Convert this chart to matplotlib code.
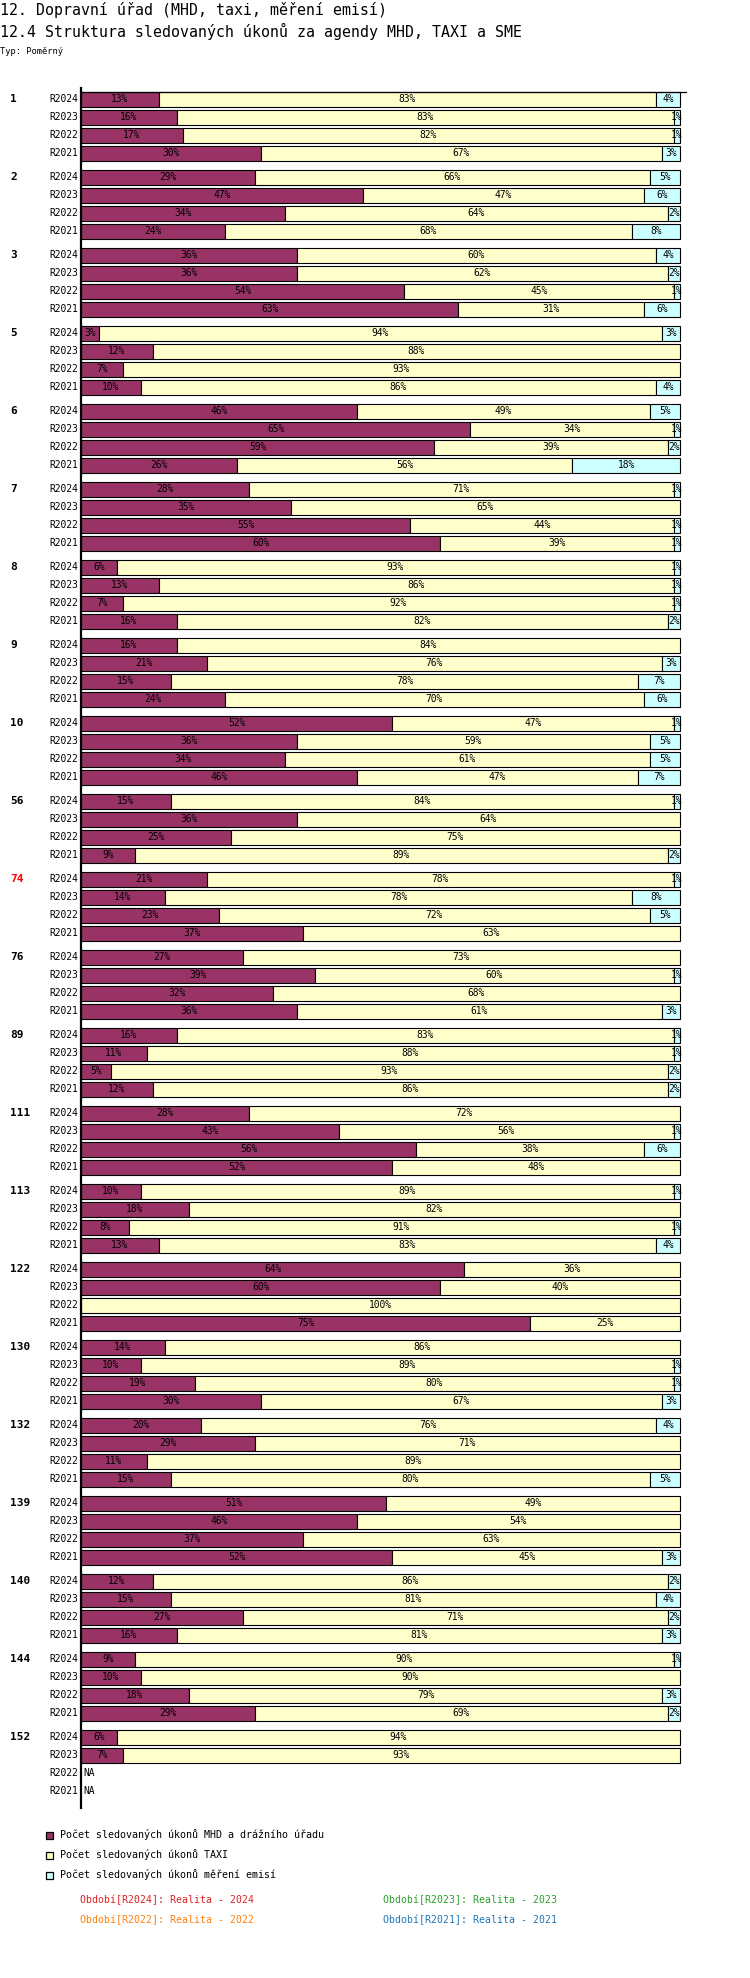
import matplotlib
matplotlib.use("Agg")
import matplotlib.pyplot as plt
from matplotlib.patches import Rectangle
import numpy as np

plt.rcParams['font.family'] = ['DejaVu Sans Mono', 'DejaVu Sans']

# ---------------- data ----------------
groups = ["1", "2", "3", "5", "6", "7", "8", "9", "10", "56", "74", "76", "89",
          "111", "113", "122", "130", "132", "139", "140", "144", "152"]
periods = ["R2024", "R2023", "R2022", "R2021"]

# each group: rows for R2024, R2023, R2022, R2021 ; None = NA
mhd = [
    [13, 16, 17, 30], [29, 47, 34, 24], [36, 36, 54, 63], [3, 12, 7, 10],
    [46, 65, 59, 26], [28, 35, 55, 60], [6, 13, 7, 16], [16, 21, 15, 24],
    [52, 36, 34, 46], [15, 36, 25, 9], [21, 14, 23, 37], [27, 39, 32, 36],
    [16, 11, 5, 12], [28, 43, 56, 52], [10, 18, 8, 13], [64, 60, 0, 75],
    [14, 10, 19, 30], [20, 29, 11, 15], [51, 46, 37, 52], [12, 15, 27, 16],
    [9, 10, 18, 29], [6, 7, None, None],
]
taxi = [
    [83, 83, 82, 67], [66, 47, 64, 68], [60, 62, 45, 31], [94, 88, 93, 86],
    [49, 34, 39, 56], [71, 65, 44, 39], [93, 86, 92, 82], [84, 76, 78, 70],
    [47, 59, 61, 47], [84, 64, 75, 89], [78, 78, 72, 63], [73, 60, 68, 61],
    [83, 88, 93, 86], [72, 56, 38, 48], [89, 82, 91, 83], [36, 40, 100, 25],
    [86, 89, 80, 67], [76, 71, 89, 80], [49, 54, 63, 45], [86, 81, 71, 81],
    [90, 90, 79, 69], [94, 93, None, None],
]
sme = [
    [4, 1, 1, 3], [5, 6, 2, 8], [4, 2, 1, 6], [3, 0, 0, 4],
    [5, 1, 2, 18], [1, 0, 1, 1], [1, 1, 1, 2], [0, 3, 7, 6],
    [1, 5, 5, 7], [1, 0, 0, 2], [1, 8, 5, 0], [0, 1, 0, 3],
    [1, 1, 2, 2], [0, 1, 6, 0], [1, 0, 1, 4], [0, 0, 0, 0],
    [0, 1, 1, 3], [4, 0, 0, 5], [0, 0, 0, 3], [2, 4, 2, 3],
    [1, 0, 3, 2], [0, 0, None, None],
]
series_names = ["Počet sledovaných úkonů MHD a drážního úřadu",
                "Počet sledovaných úkonů TAXI",
                "Počet sledovaných úkonů měření emisí"]
series_colors = ["#993366", "#FFFFCC", "#CCFFFF"]
highlight_group = "74"
period_legend = ["Období[R2024]: Realita - 2024", "Období[R2023]: Realita - 2023",
                 "Období[R2022]: Realita - 2022", "Období[R2021]: Realita - 2021"]
period_colors = ["#dd2222", "#2ca02c", "#ff7f0e", "#1f77b4"]

title1 = "12. Dopravní úřad (MHD, taxi, měření emisí)"
title2 = "12.4 Struktura sledovaných úkonů za agendy MHD, TAXI a SME"
subtitle = "Typ: Poměrný"

# ---------------- layout ----------------
W, H, DPI = 750, 1978, 100
fig = plt.figure(figsize=(W / DPI, H / DPI), dpi=DPI)

ROW = 18.0            # px per row
GAP = 6.0 / ROW       # extra gap between groups (rows)
ax_left, ax_right = 81, 680
ax_top, ax_bot = 88, 1808
first_center = 99.5

ax = fig.add_axes([ax_left / W, 1 - ax_bot / H, (ax_right - ax_left) / W, (ax_bot - ax_top) / H])
ytop = -(first_center - ax_top) / ROW
ybot = ytop + (ax_bot - ax_top) / ROW
ax.set_xlim(0, 100)
ax.set_ylim(ybot, ytop)
for s in ["top", "right", "bottom"]:
    ax.spines[s].set_visible(False)
ax.spines["left"].set_linewidth(1.6)
ax.spines["left"].set_zorder(5)
ax.set_xticks([])
ax.set_yticks([])

bh = 15.0 / ROW
px2data = 100.0 / (ax_right - ax_left)

for g, gname in enumerate(groups):
    for r, per in enumerate(periods):
        y = g * (4 + GAP) + r
        ax.text(-3 * px2data, y, per, ha="right", va="center", fontsize=6.9, clip_on=False)
        if r == 0:
            ax.text((10 - ax_left) * px2data, y, gname, ha="left", va="center",
                    fontsize=8, fontweight="bold", clip_on=False,
                    color="red" if gname == highlight_group else "black")
        vals = [mhd[g][r], taxi[g][r], sme[g][r]]
        if vals[0] is None:
            ax.text(2 * px2data, y, "NA", ha="left", va="center", fontsize=6.9)
            continue
        left = 0
        for v, c in zip(vals, series_colors):
            if v > 0:
                bars = ax.barh(y, v, left=left, height=bh, color=c, edgecolor="black",
                               linewidth=0.8, zorder=2)
                for b in bars:
                    b.set_clip_on(False)
                ax.text(left + v / 2, y, f"{v}%", ha="center", va="center",
                        fontsize=6.9, zorder=6, clip_on=False)
            left += v

# top line
ax.plot([0, 101], [-bh / 2, -bh / 2], color="black", lw=0.9, clip_on=False, zorder=4)

# ---------------- overlay for titles & legends ----------------
ov = fig.add_axes([0, 0, 1, 1])
ov.set_xlim(0, W)
ov.set_ylim(H, 0)
ov.axis("off")
ov.patch.set_alpha(0)

ov.text(0, 10, title1, ha="left", va="center", fontsize=10.7)
ov.text(0, 31, title2, ha="left", va="center", fontsize=10.7)
ov.text(0, 52, subtitle, ha="left", va="center", fontsize=6.3)

leg_y = [1835, 1855, 1875]
for name, col, yy in zip(series_names, series_colors, leg_y):
    ov.add_patch(Rectangle((46, yy - 3.5), 6.5, 7, facecolor=col, edgecolor="black", lw=0.9))
    ov.text(60, yy, name, ha="left", va="center", fontsize=7.2)

pos = [(80, 1900), (383, 1900), (80, 1920), (383, 1920)]
for txt, col, (xx, yy) in zip(period_legend, period_colors, pos):
    ov.text(xx, yy, txt, ha="left", va="center", fontsize=7.1, color=col)

fig.savefig("out.png", dpi=DPI, facecolor="white")
